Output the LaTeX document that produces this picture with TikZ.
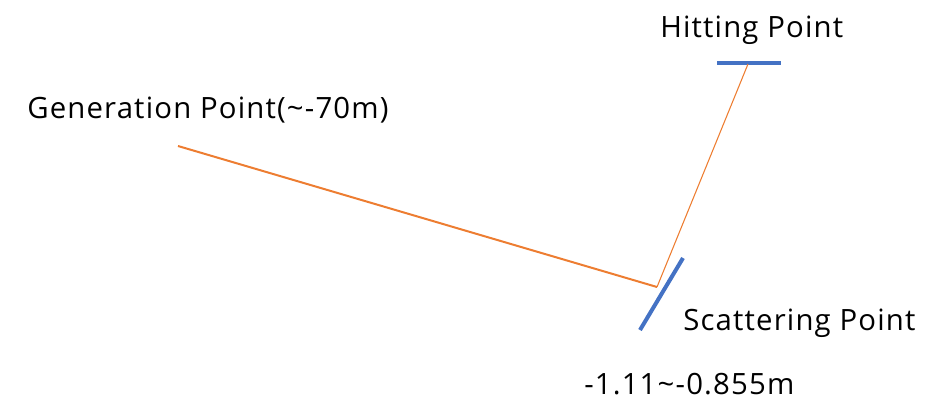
\documentclass[tikz,border=0pt]{standalone}
\usepackage{fontspec}
\setmainfont[LetterSpace=4]{Open Sans}
\usepackage{tikz}
\usetikzlibrary{calc}
\definecolor{orng}{HTML}{ED7D31}
\definecolor{blu}{HTML}{4472C4}
\tikzset{lbl/.style={anchor=base west,inner sep=0pt,font=\fontsize{22}{26}\selectfont}}

\begin{document}
\begin{tikzpicture}[x=0.75pt,y=-0.75pt]
    \useasboundingbox (0,0) rectangle (938,401);
    % points of the track
    \coordinate (gen) at (178,146);
    \coordinate (sca) at (657,287);
    \coordinate (hit) at (748,64);
    % plates
    \draw[blu,line width=3pt] (640,330)--(683,258);
    \draw[blu,line width=3pt] (717,63)--(781,63);
    % track
    \draw[orng,line width=1.5pt] (gen)--(sca);
    \draw[orng,line width=0.8pt] (sca)--(hit);
    % labels
    \node[lbl] (hitlbl) at (660,37) {Hitting Point};
    \node[lbl] (genlbl) at (27,118) {Generation Point(\textasciitilde-70m)};
    \node[lbl] (scalbl) at (683,330) {Scattering Point};
    \node[lbl] (rnglbl) at (584,394) {-1.11\textasciitilde-0.855m};
\end{tikzpicture}
\end{document}
